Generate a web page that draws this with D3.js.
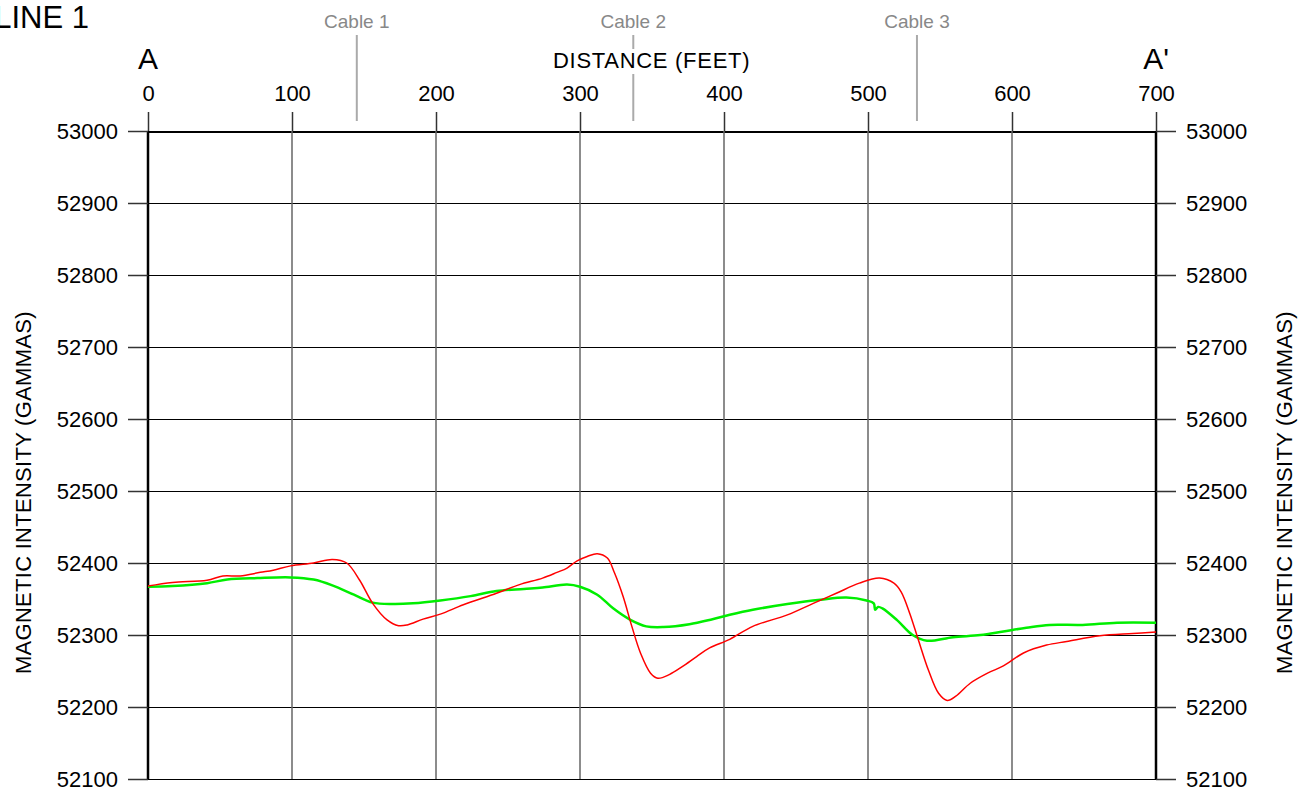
<!DOCTYPE html>
<html>
<head>
  <style>
    body { margin: 0; background: #fff; font-family: "Liberation Sans", Arial, sans-serif; }
    .tick text { font-family: "Liberation Sans", Arial, sans-serif; font-size: 22px; fill: #000; }
    .cable { fill: #888; font-size: 19px; text-anchor: middle; }
    .title { font-size: 22px; letter-spacing: 1.5px; }
  </style>
</head>
<body>
  <script src="https://d3js.org/d3.v7.min.js"></script>
  <script>
    var xTicks = [0, 100, 200, 300, 400, 500, 600, 700];
    var yTicks = [52100, 52200, 52300, 52400, 52500, 52600, 52700, 52800, 52900, 53000];

    var cableNames = ["Cable 1", "Cable 2", "Cable 3"];
    var cableDist = [145, 337, 534];

    // red profile
    var redDist = [0, 17, 41, 52, 64, 78, 87, 99, 115, 128, 138, 147, 156, 166, 174, 180, 191, 203,
      219, 242, 258, 274, 284, 291, 298, 305, 312, 319, 324, 330, 336, 342, 349, 354, 362, 371, 381, 390, 404,
      420, 444, 462, 478, 494, 508, 518, 523, 529, 535, 542, 549, 555, 561, 571, 583, 594, 608, 624, 638, 661, 684, 700];
    var redVal = [52368, 52373, 52376, 52382, 52382, 52387, 52390, 52396, 52400, 52405, 52400, 52376, 52344, 52321, 52313, 52314, 52322, 52329,
      52342, 52358, 52370, 52379, 52387, 52393, 52403, 52409, 52413, 52407, 52386, 52353, 52312, 52275, 52247, 52240, 52245, 52256, 52270, 52282, 52294,
      52312, 52328, 52344, 52358, 52372, 52379, 52372, 52360, 52330, 52293, 52251, 52219, 52209, 52215, 52233, 52247, 52257, 52275, 52286, 52291, 52299, 52302, 52304];

    // green profile
    var greenDist = [0, 17, 41, 55, 76, 99, 115, 128, 143, 156, 170, 184, 203, 224, 242, 261, 274, 291, 300,
      312, 323, 335, 346, 358, 376, 392, 404, 420, 444, 467, 485, 499, 504, 505, 507, 510, 520, 531, 541, 559,
      578, 594, 610, 626, 649, 673, 700];
    var greenVal = [52367, 52368, 52372, 52377, 52379, 52380, 52377, 52369, 52356, 52345, 52343, 52344, 52348, 52354, 52361, 52364, 52366, 52370, 52367,
      52356, 52337, 52321, 52312, 52311, 52315, 52322, 52328, 52335, 52343, 52349, 52352, 52348, 52344, 52335, 52339, 52337, 52321, 52300, 52292, 52297,
      52300, 52305, 52310, 52314, 52314, 52317, 52317];

    var W = 1307, H = 792;
    var mLeft = 148, mRight = 1156, mTop = 131, mBottom = 779;

    var svg = d3.select("body").append("svg").attr("width", W).attr("height", H);

    var x = d3.scaleLinear().domain([0, 700]).range([mLeft, mRight]);
    var y = d3.scaleLinear().domain([52100, 53000]).range([mBottom, mTop]);

    // horizontal grid
    svg.append("g").selectAll("line").data(yTicks).join("line")
      .attr("x1", mLeft).attr("x2", mRight)
      .attr("y1", d => y(d) + 0.5).attr("y2", d => y(d) + 0.5)
      .attr("stroke", "#000")
      .attr("shape-rendering", "crispEdges")
      .attr("stroke-width", d => d === 53000 ? 2 : 1);

    // vertical grid
    svg.append("g").selectAll("line").data(xTicks).join("line")
      .attr("x1", d => x(d)).attr("x2", d => x(d))
      .attr("y1", mTop).attr("y2", mBottom)
      .attr("stroke", d => (d === 0 || d === 700) ? "#000" : "#666")
      .attr("stroke-width", d => (d === 0 || d === 700) ? 2.5 : 1.5);

    function styleAxis(g) {
      g.select(".domain").remove();
      g.selectAll(".tick line").attr("stroke", "#333").attr("stroke-width", 1.5);
    }

    svg.append("g").attr("transform", "translate(" + mLeft + ",0)")
      .call(d3.axisLeft(y).tickValues(yTicks).tickSize(20).tickPadding(10).tickFormat(d3.format("d")))
      .call(styleAxis);
    svg.append("g").attr("transform", "translate(" + mRight + ",0)")
      .call(d3.axisRight(y).tickValues(yTicks).tickSize(20).tickPadding(10).tickFormat(d3.format("d")))
      .call(styleAxis);
    svg.append("g").attr("transform", "translate(0," + mTop + ")")
      .call(d3.axisTop(x).tickValues(xTicks).tickSize(19).tickPadding(11).tickFormat(d3.format("d")))
      .call(styleAxis);

    // cables
    svg.append("g").selectAll("line").data(cableDist).join("line")
      .attr("x1", d => x(d)).attr("x2", d => x(d))
      .attr("y1", 35).attr("y2", 121)
      .attr("stroke", "#aaa").attr("stroke-width", 2);
    svg.append("g").selectAll("text").data(cableNames).join("text")
      .attr("class", "cable")
      .attr("x", (d, i) => x(cableDist[i])).attr("y", 28)
      .text(d => d);

    // titles
    var dt = svg.append("text").attr("class", "title")
      .attr("x", 652).attr("y", 68).attr("text-anchor", "middle")
      .attr("textLength", 198).attr("lengthAdjust", "spacing")
      .text("DISTANCE (FEET)");
    var bb = dt.node().getBBox();
    svg.insert("rect", ".title").attr("x", bb.x).attr("y", bb.y + 1).attr("width", bb.width).attr("height", bb.height).attr("fill", "#fff");

    svg.append("text").attr("class", "title")
      .attr("transform", "translate(31,492) rotate(-90)").attr("text-anchor", "middle")
      .attr("textLength", 364).attr("lengthAdjust", "spacing")
      .text("MAGNETIC INTENSITY (GAMMAS)");
    svg.append("text").attr("class", "title")
      .attr("transform", "translate(1292,492) rotate(-90)").attr("text-anchor", "middle")
      .attr("textLength", 364).attr("lengthAdjust", "spacing")
      .text("MAGNETIC INTENSITY (GAMMAS)");

    svg.append("text").attr("x", 89).attr("y", 28).attr("text-anchor", "end")
      .style("font-size", "31px").text("LINE 1");
    svg.append("text").attr("x", x(0)).attr("y", 69).attr("text-anchor", "middle")
      .style("font-size", "30px").text("A");
    svg.append("text").attr("x", x(700)).attr("y", 69).attr("text-anchor", "middle")
      .style("font-size", "30px").text("A'");

    // profiles
    var line = d3.line().curve(d3.curveCatmullRom.alpha(0.5));
    svg.append("path")
      .attr("d", line(greenDist.map((d, i) => [x(d), y(greenVal[i])])))
      .attr("fill", "none").attr("stroke", "#00ee00").attr("stroke-width", 2.5);
    svg.append("path")
      .attr("d", line(redDist.map((d, i) => [x(d), y(redVal[i])])))
      .attr("fill", "none").attr("stroke", "#ff0000").attr("stroke-width", 1.5);
  </script>
</body>
</html>
